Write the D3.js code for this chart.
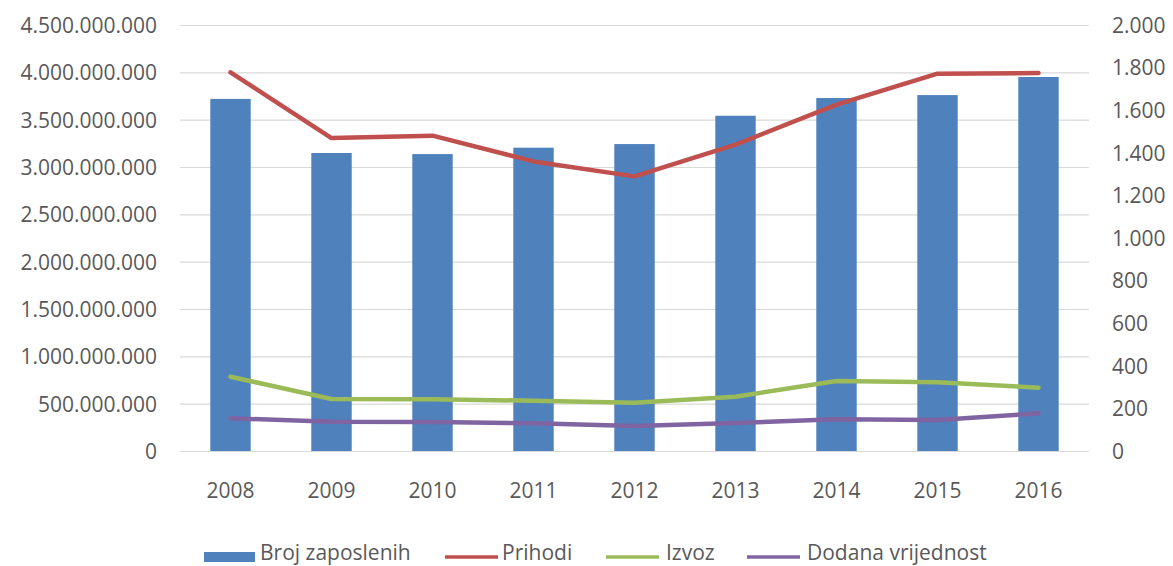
<!DOCTYPE html>
<html>
<head>
<meta charset="utf-8">
<script src="https://cdn.jsdelivr.net/npm/d3@7"></script>
<style>
  body { margin: 0; background: #fff; }
  text { font-family: "Open Sans", sans-serif; fill: #595959; }
</style>
</head>
<body>
<svg class="chart"></svg>
<script>
var width = 1173;
var height = 566;
var margin = {top: 25, right: 84, bottom: 115, left: 180};
var w = width - margin.left - margin.right;
var h = height - margin.top - margin.bottom;

//data
var years = ["2008", "2009", "2010", "2011", "2012", "2013", "2014", "2015", "2016"];
var zaposleni = [1653, 1399, 1394, 1424, 1441, 1574, 1657, 1671, 1756];
var prihodi = [4000000000, 3306000000, 3331000000, 3059000000, 2901000000, 3236000000, 3658000000, 3986000000, 3993000000];
var izvoz = [785000000, 549000000, 546000000, 531000000, 510000000, 574000000, 739000000, 726000000, 669000000];
var dodana = [345000000, 310000000, 306000000, 293000000, 264000000, 295000000, 335000000, 327000000, 398000000];
var leftTicks = [0, 500000000, 1000000000, 1500000000, 2000000000, 2500000000, 3000000000, 3500000000, 4000000000, 4500000000];
var rightTicks = [0, 200, 400, 600, 800, 1000, 1200, 1400, 1600, 1800, 2000];

var lines = [
  {name: "Prihodi", values: prihodi, color: "#C0504D"},
  {name: "Izvoz", values: izvoz, color: "#9BBB59"},
  {name: "Dodana vrijednost", values: dodana, color: "#8064A2"}
];

var fmt = d3.formatLocale({decimal: ",", thousands: ".", grouping: [3], currency: ["", ""]}).format(",");

var svg = d3.select(".chart")
    .attr("width", width)
    .attr("height", height);

var chart = svg.append("g")
    .attr("transform", "translate(" + margin.left + "," + margin.top + ")");

var x = d3.scaleBand()
    .domain(years)
    .range([0, w]);

var yLeft = d3.scaleLinear()
    .domain([0, 4500000000])
    .range([h, 0]);

var yRight = d3.scaleLinear()
    .domain([0, 2000])
    .range([h, 0]);

//gridlines
chart.selectAll(".grid")
    .data(leftTicks)
    .enter().append("line")
    .attr("x1", 0)
    .attr("x2", w)
    .attr("y1", function(d) { return yLeft(d) + 0.5; })
    .attr("y2", function(d) { return yLeft(d) + 0.5; })
    .style("stroke", "#D9D9D9")
    .style("stroke-width", 1.2);

//left axis
var leftAxis = d3.axisLeft(yLeft)
    .tickValues(leftTicks)
    .tickFormat(fmt)
    .tickSize(0)
    .tickPadding(23);

chart.append("g")
    .call(leftAxis)
    .call(function(g) { g.select(".domain").remove(); })
    .selectAll("text")
    .attr("dy", "0.35em")
    .style("font-size", "21px")
    .style("fill", "#595959");

//right axis
var rightAxis = d3.axisRight(yRight)
    .tickValues(rightTicks)
    .tickFormat(fmt)
    .tickSize(0)
    .tickPadding(23);

chart.append("g")
    .attr("transform", "translate(" + w + ",0)")
    .call(rightAxis)
    .call(function(g) { g.select(".domain").remove(); })
    .selectAll("text")
    .attr("dy", "0.35em")
    .style("font-size", "21px")
    .style("fill", "#595959");

//x axis labels
var xAxis = d3.axisBottom(x)
    .tickSize(0)
    .tickPadding(32);

chart.append("g")
    .attr("transform", "translate(0," + h + ")")
    .call(xAxis)
    .call(function(g) { g.select(".domain").remove(); })
    .selectAll("text")
    .style("font-size", "21px")
    .style("fill", "#595959");

//bars
var barW = x.bandwidth() * 0.4;

chart.selectAll(".bar")
    .data(zaposleni)
    .enter().append("rect")
    .attr("class", "bar")
    .attr("x", function(d, i) { return x(years[i]) + (x.bandwidth() - barW) / 2; })
    .attr("y", function(d) { return yRight(d); })
    .attr("width", barW)
    .attr("height", function(d) { return h - yRight(d); })
    .style("fill", "#4F81BD");

//lines
var line = d3.line()
    .x(function(d, i) { return x(years[i]) + x.bandwidth() / 2; })
    .y(function(d) { return yLeft(d); });

chart.selectAll(".series")
    .data(lines)
    .enter().append("path")
    .attr("class", "series")
    .attr("d", function(d) { return line(d.values); })
    .style("fill", "none")
    .style("stroke", function(d) { return d.color; })
    .style("stroke-width", 4.5)
    .style("stroke-linejoin", "round")
    .style("stroke-linecap", "round");

//legend (sits at the very bottom edge, a bit higher so text stays whole)
var legend = svg.append("g");
var legendY = 558;

legend.append("rect")
    .attr("x", 204)
    .attr("y", legendY - 6)
    .attr("width", 51)
    .attr("height", 10)
    .style("fill", "#4F81BD");

legend.append("text")
    .attr("x", 260)
    .attr("y", legendY + 2)
    .style("font-size", "21px")
    .text("Broj zaposlenih");

var legendX = [{lx: 445, tx: 502}, {lx: 606, tx: 666}, {lx: 747, tx: 807}];

lines.forEach(function(d, i) {
  legend.append("line")
      .attr("x1", legendX[i].lx)
      .attr("x2", legendX[i].lx + 53)
      .attr("y1", legendY - 1)
      .attr("y2", legendY - 1)
      .style("stroke", d.color)
      .style("stroke-width", 3.5);
  legend.append("text")
      .attr("x", legendX[i].tx)
      .attr("y", legendY + 2)
      .style("font-size", "21px")
      .text(d.name);
});
</script>
</body>
</html>
